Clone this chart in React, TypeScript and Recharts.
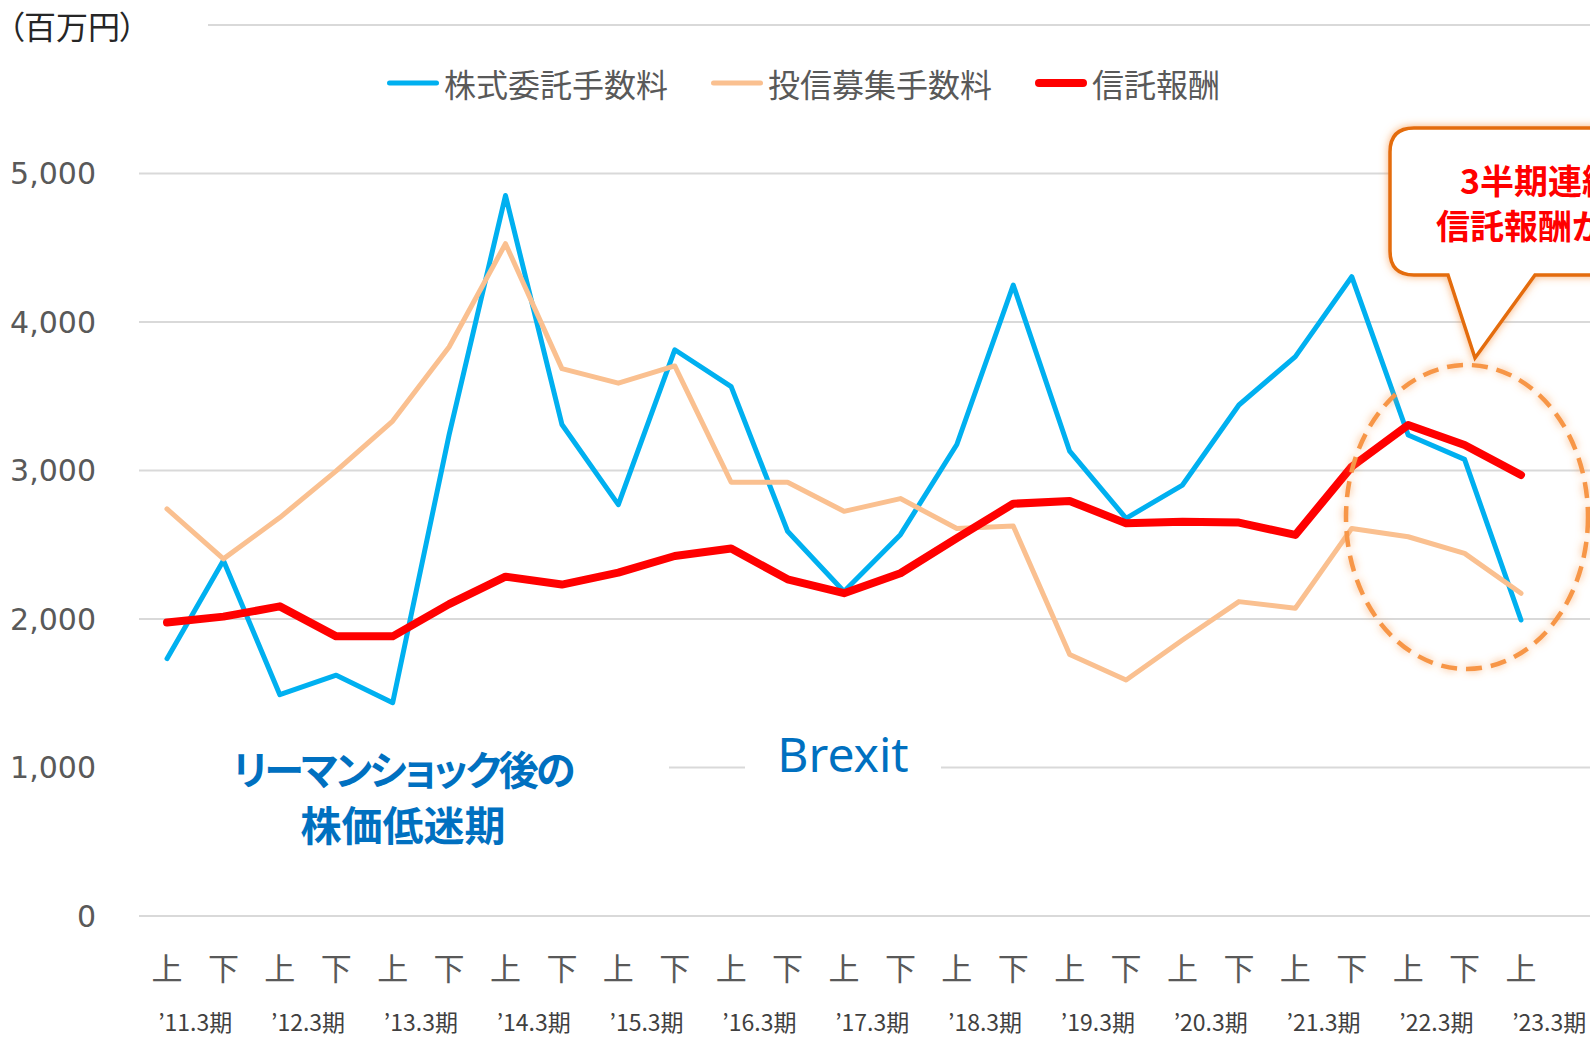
import React from 'react';
import { LineChart, Line, XAxis, YAxis, CartesianGrid, Legend } from 'recharts';

// ---- data ----
const halves = ['上', '下', '上', '下', '上', '下', '上', '下', '上', '下', '上', '下', '上', '下', '上', '下', '上', '下', '上', '下', '上', '下', '上', '下', '上'];
const fiscalYears = ['’11.3期', '’12.3期', '’13.3期', '’14.3期', '’15.3期', '’16.3期', '’17.3期', '’18.3期', '’19.3期', '’20.3期', '’21.3期', '’22.3期', '’23.3期'];
const stockCommission = [1733, 2394, 1490, 1622, 1436, 3240, 4852, 3310, 2770, 3813, 3565, 2591, 2185, 2568, 3175, 4249, 3130, 2678, 2902, 3441, 3767, 4305, 3239, 3075, 1993];
const fundCommission = [2741, 2405, 2683, 2997, 3333, 3832, 4527, 3686, 3588, 3704, 2921, 2921, 2725, 2811, 2609, 2626, 1761, 1589, 1859, 2117, 2072, 2610, 2554, 2442, 2173];
const trustFee = [1976, 2016, 2085, 1883, 1883, 2100, 2285, 2232, 2312, 2424, 2475, 2267, 2174, 2308, 2545, 2776, 2795, 2644, 2655, 2649, 2566, 3026, 3306, 3172, 2970];
const yTicks = [0, 1000, 2000, 3000, 4000, 5000, 6000];
const seriesNames = ['株式委託手数料', '投信募集手数料', '信託報酬'];
const seriesColors = ['#00B0F0', '#FAC090', '#FF0000'];
const seriesWidths = [5, 5, 8];
const unitLabel = '（百万円）';
const noteLehman = ['リーマンショック後の', '株価低迷期'];
const noteBrexit = 'Brexit';
const calloutLines = ['3半期連続で', '信託報酬が増加'];

const data = halves.map((h, i) => ({
  key: `${i}`,
  half: h,
  fy: i % 2 === 0 ? fiscalYears[i / 2] : '',
  stock: stockCommission[i],
  fund: fundCommission[i],
  trust: trustFee[i],
}));

// ---- layout ----
const W = 1590;
const H = 1038;
const Y_AXIS_W = 139;
const PAD_L = 28;
const PAD_R = 69;
const STEP = (W - Y_AXIS_W - PAD_L - PAD_R) / (data.length - 1);
const CJK = "'Noto Sans CJK JP', 'Noto Sans', sans-serif";

const renderXTick = (props: any) => {
  const { x, y, payload } = props;
  const idx = payload && payload.index != null ? payload.index : props.index;
  const row = data[idx];
  if (!row) return <g />;
  return (
    <g>
      <text x={x} y={y + 50} textAnchor="middle" dominantBaseline="central" fill="#595959" fontSize={31} fontFamily={CJK}>
        {row.half}
      </text>
      {row.fy ? (
        <text x={x + STEP / 2} y={y + 105} textAnchor="middle" dominantBaseline="central" fill="#404040" fontSize={23} fontFamily={CJK}>
          {row.fy}
        </text>
      ) : null}
    </g>
  );
};

const renderLegend = (props: any) => {
  const payload = [...(props.payload || [])].sort(
    (a: any, b: any) => seriesNames.indexOf(a.value) - seriesNames.indexOf(b.value)
  );
  return (
    <div style={{ position: 'absolute', left: 387, top: 0, display: 'flex', alignItems: 'center', whiteSpace: 'nowrap', fontFamily: CJK, fontSize: 32, color: '#595959', lineHeight: '40px' }}>
      {payload.map((p: any, i: number) => {
        const si = seriesNames.indexOf(p.value);
        const sw = seriesWidths[si] || 5;
        return (
          <div key={i} style={{ display: 'flex', alignItems: 'center', marginRight: 43 }}>
            <svg width={52} height={14} style={{ display: 'block' }}>
              <line x1={sw / 2} y1={7} x2={52 - sw / 2} y2={7} stroke={p.color} strokeWidth={sw} strokeLinecap="round" />
            </svg>
            <span style={{ marginLeft: 5 }}>{p.value}</span>
          </div>
        );
      })}
    </div>
  );
};

export default function App() {
  return (
    <div style={{ position: 'absolute', left: 0, top: 0, width: W, height: H, overflow: 'hidden', background: '#fff' }}>
      <LineChart width={W} height={H} data={data} margin={{ top: 25, right: 0, left: 0, bottom: 0 }}>
        <CartesianGrid vertical={false} stroke="#D9D9D9" strokeWidth={2} />
        <XAxis
          dataKey="key"
          interval={0}
          height={122}
          axisLine={false}
          tickLine={false}
          tickSize={0}
          tickMargin={0}
          padding={{ left: PAD_L, right: PAD_R }}
          tick={renderXTick}
        />
        <YAxis
          width={Y_AXIS_W}
          domain={[0, 6000]}
          ticks={yTicks}
          interval={0}
          axisLine={false}
          tickLine={false}
          tickSize={0}
          tickMargin={43}
          tickFormatter={(v: number) => (v === 6000 ? '' : v.toLocaleString('en-US'))}
          tick={{ fill: '#595959', fontSize: 30, fontFamily: 'DejaVu Sans' }}
        />
        <Legend
          verticalAlign="top"
          content={renderLegend}
          wrapperStyle={{ top: 63, left: 0, width: W, height: 0, overflow: 'visible' }}
        />
        <Line name={seriesNames[0]} dataKey="stock" type="linear" stroke={seriesColors[0]} strokeWidth={seriesWidths[0]} dot={false} activeDot={false} strokeLinejoin="round" strokeLinecap="round" isAnimationActive={false} />
        <Line name={seriesNames[1]} dataKey="fund" type="linear" stroke={seriesColors[1]} strokeWidth={seriesWidths[1]} dot={false} activeDot={false} strokeLinejoin="round" strokeLinecap="round" isAnimationActive={false} />
        <Line name={seriesNames[2]} dataKey="trust" type="linear" stroke={seriesColors[2]} strokeWidth={seriesWidths[2]} dot={false} activeDot={false} strokeLinejoin="round" strokeLinecap="round" isAnimationActive={false} />
      </LineChart>

      <svg width={W} height={H} style={{ position: 'absolute', left: 0, top: 0, pointerEvents: 'none' }}>
        <defs>
          <filter id="glow" x="-20%" y="-20%" width="140%" height="140%">
            <feDropShadow dx="0" dy="0" stdDeviation="4" floodColor="#F79646" floodOpacity="0.75" />
          </filter>
        </defs>
        {/* unit label */}
        <rect x={0} y={0} width={208} height={52} fill="#fff" />
        <text x={8} y={25} dominantBaseline="central" fontSize={32} fill="#262626" fontFamily={CJK} style={{ fontFeatureSettings: '"palt"' }}>
          {unitLabel}
        </text>

        {/* Lehman note */}
        <rect x={139} y={736} width={530} height={122} fill="#fff" />
        <text x={403} y={768} textAnchor="middle" dominantBaseline="central" fontSize={40} fontWeight={700} fill="#0070C0" fontFamily={CJK} letterSpacing={-2.5} style={{ fontFeatureSettings: '"palt"' }}>
          {noteLehman[0]}
        </text>
        <text x={403} y={823} textAnchor="middle" dominantBaseline="central" fontSize={41} fontWeight={700} fill="#0070C0" fontFamily={CJK}>
          {noteLehman[1]}
        </text>

        {/* Brexit note */}
        <rect x={745} y={722} width={196} height={64} fill="#fff" />
        <text x={843} y={753} textAnchor="middle" dominantBaseline="central" fontSize={48} fill="#0070C0" fontFamily="'Noto Sans', 'Open Sans', sans-serif">
          {noteBrexit}
        </text>

        {/* dashed ellipse */}
        <ellipse cx={1467} cy={517} rx={121} ry={152} fill="none" stroke="#F79646" strokeWidth={4.5} strokeDasharray="16 9" filter="url(#glow)" />

        {/* callout */}
        <path
          d="M 1414 128 H 1780 V 275 H 1535 L 1475 358 L 1448 275 H 1414 Q 1390 275 1390 251 V 152 Q 1390 128 1414 128 Z"
          fill="#fff"
          stroke="#E46C0A"
          strokeWidth={3.5}
          strokeLinejoin="miter"
          filter="url(#glow)"
        />
        <text x={1555} y={179} textAnchor="middle" dominantBaseline="central" fontSize={34} fontWeight={700} fill="#FF0000" fontFamily={CJK}>
          {calloutLines[0]}
        </text>
        <text x={1555} y={224} textAnchor="middle" dominantBaseline="central" fontSize={34} fontWeight={700} fill="#FF0000" fontFamily={CJK}>
          {calloutLines[1]}
        </text>
      </svg>
    </div>
  );
}
